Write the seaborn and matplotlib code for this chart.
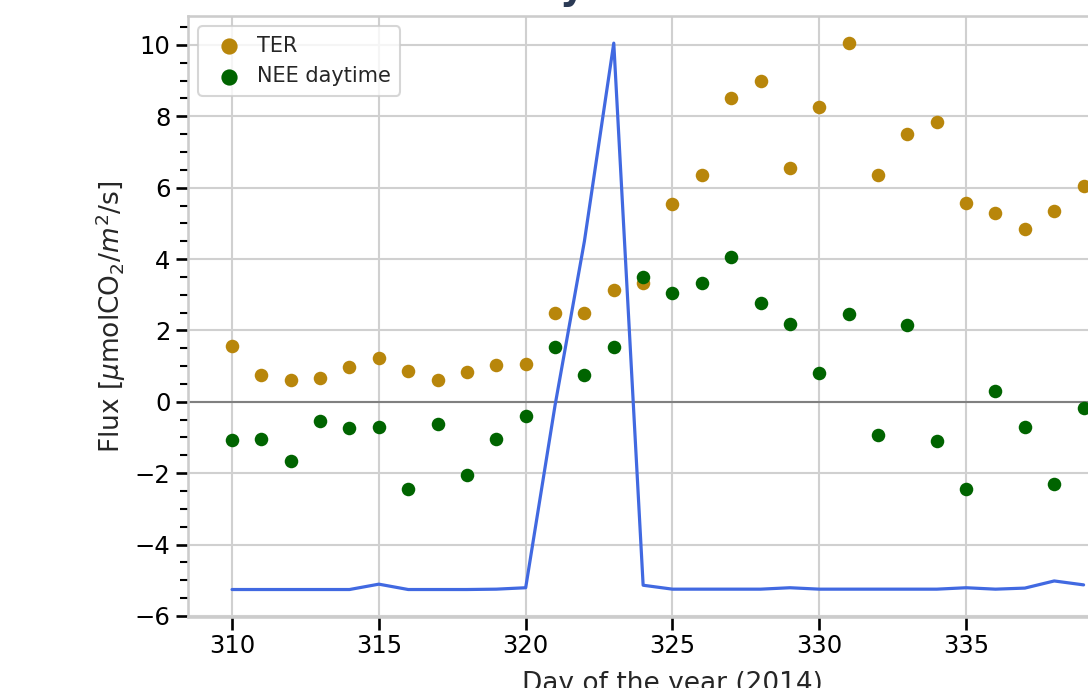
import numpy as np
import pandas as pd
import matplotlib.pyplot as plt
from matplotlib.ticker import MultipleLocator
import seaborn as sns

# day of year 2014
days = list(range(310, 340))

ter = [1.55, 0.76, 0.62, 0.66, 0.97, 1.24, 0.87, 0.62, 0.84, 1.03,
       1.06, 2.49, 2.48, 3.13, 3.32, 5.55, 6.36, 8.51, 8.98, 6.55,
       8.26, 10.06, 6.36, 7.49, 7.85, 5.58, 5.29, 4.85, 5.34, 6.05]

nee_day = [-1.07, -1.03, -1.65, -0.55, -0.74, -0.70, -2.45, -0.63, -2.05, -1.03,
           -0.40, 1.53, 0.75, 1.54, 3.50, 3.06, 3.32, 4.06, 2.78, 2.18,
           0.82, 2.46, -0.94, 2.14, -1.11, -2.44, 0.31, -0.71, -2.31, -0.16]

line_vals = [-5.26, -5.26, -5.26, -5.26, -5.26, -5.11, -5.26, -5.26, -5.26, -5.25,
             -5.21, -0.1, 4.5, 10.05, -5.14, -5.25, -5.25, -5.25, -5.25, -5.21,
             -5.25, -5.25, -5.25, -5.25, -5.25, -5.21, -5.25, -5.22, -5.02, -5.13]

df = pd.DataFrame({'day': days, 'TER': ter, 'NEE daytime': nee_day, 'line': line_vals})

sns.set_theme(context='talk', style='whitegrid',
              rc={'xtick.bottom': True, 'ytick.left': True,
                  'xtick.color': 'black', 'ytick.color': 'black',
                  'axes.edgecolor': '#cccccc', 'grid.color': '#d0d0d0'})

fig = plt.figure(figsize=(10.88, 6.88), dpi=100)
# axes runs off the right edge like in the original crop
ax = fig.add_axes([188/1088, 71/688, 969/1088, 601/688])

ax.axhline(0, color='grey', lw=1.5, zorder=1)
sns.lineplot(data=df, x='day', y='line', ax=ax, color='#4169e1', lw=2.3, zorder=2)
sns.scatterplot(data=df, x='day', y='TER', ax=ax, color='#b8860b', s=95,
                linewidth=0, label='TER', zorder=3)
sns.scatterplot(data=df, x='day', y='NEE daytime', ax=ax, color='#006400', s=95,
                linewidth=0, label='NEE daytime', zorder=3)

ax.set_xlim(308.5, 341.5)
ax.set_ylim(-6.03, 10.81)
ax.xaxis.set_major_locator(MultipleLocator(5))
ax.yaxis.set_major_locator(MultipleLocator(2))
ax.yaxis.set_minor_locator(MultipleLocator(0.5))
ax.tick_params(axis='y', which='minor', left=True, length=6, width=1.5, color='black')
ax.tick_params(axis='both', which='major', length=9, width=1.9, labelsize=17.5)

ax.set_xlabel('Day of the year (2014)', fontsize=19, labelpad=9)
ax.set_ylabel(r'Flux [$\mu$molCO$_2$/$m^2$/s]', fontsize=19, labelpad=5)

ax.legend(loc='upper left', fontsize=15, handletextpad=0.35, borderpad=0.45,
          markerscale=1.2)

# bottom of the title, cut by the top edge of the picture
fig.text(586/1088, 1 + 1/688, 'Daily', ha='right', va='baseline',
         fontsize=28, fontweight='bold', color='#2b3a55')

plt.savefig('out.png', dpi=100)
